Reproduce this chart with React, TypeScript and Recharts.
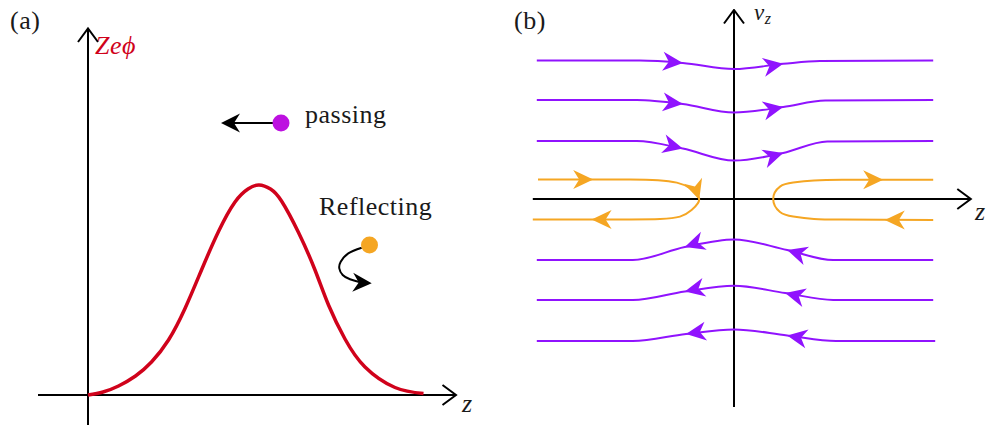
import React from "react";
import { ComposedChart, Line, Scatter, XAxis, YAxis, ReferenceDot } from "recharts";

const W = 987;
const H = 427;

const RED = "#d0021b";
const MAGENTA = "#bd10e0";
const ORANGE = "#f5a623";
const PURPLE = "#9013fe";
const SERIF = '"Liberation Serif", "DejaVu Serif", serif';

// (a) potential hump Ze*phi(z)
const potZ = [0, 0.3, 0.61, 0.95, 1.27, 1.61, 1.94, 2.27, 2.61, 2.94, 3.2, 3.42, 3.65, 3.87, 4.21, 4.54, 4.81, 5.14, 5.54, 6.14, 6.71];
const potPhi = [0, 0.06, 0.18, 0.38, 0.66, 1.1, 1.73, 2.5, 3.27, 3.86, 4.12, 4.2, 4.12, 3.88, 3.25, 2.5, 1.8, 1.12, 0.56, 0.15, 0.03];

// (a) passing particle and its arrow
const passDot = [3.86, 5.44];
const passShaftZ = [3.86, 2.78];
const passTip = [2.66, 5.44, 180];

// (a) reflecting particle and its curled arrow
const reflDot = [5.63, 3.0];
const reflPathZ = [5.474, 5.206, 5.054, 5.026, 5.094, 5.24, 5.406, 5.56];
const reflPathPhi = [2.946, 2.834, 2.666, 2.534, 2.4, 2.314, 2.266, 2.24];
const reflTip = [5.674, 2.234, 3];

// (a) axes: [z0, phi0, z1, phi1]
const axisAz = [-1, 0, 7.36, 0];
const axisAphi = [0, -0.6, 0, 7.33];

// (b) passing orbits in (z, v_z)
const passingRowsZ = [
  [-4.93, -2.35, -1.28, 0, 1.23, 2.15, 4.98],
  [-4.93, -2.43, -1.28, 0, 1.23, 2.28, 4.98],
  [-4.93, -2.43, -1.28, 0, 1.23, 2.33, 4.98],
  [-4.93, -2.53, -1.23, 0, 1.33, 2.48, 4.98],
  [-4.93, -2.53, -1.23, 0, 1.28, 2.48, 4.98],
  [-4.93, -2.53, -1.2, 0, 1.33, 2.55, 5.03],
];
const passingRowsV = [
  [3.46, 3.46, 3.4, 3.25, 3.38, 3.45, 3.46],
  [2.475, 2.475, 2.375, 2.16, 2.3, 2.46, 2.475],
  [1.45, 1.45, 1.26, 0.96, 1.15, 1.44, 1.45],
  [-1.525, -1.525, -1.2, -1.01, -1.275, -1.525, -1.525],
  [-2.525, -2.525, -2.31, -2.17, -2.35, -2.525, -2.525],
  [-3.55, -3.55, -3.375, -3.26, -3.41, -3.55, -3.55],
];

// (b) reflected orbits
const reflLeftZ = [-4.9, -3.7, -2.6, -1.9, -1.43, -1.1, -0.87, -1.06, -1.35, -1.85, -2.6, -3.8, -5.03];
const reflLeftV = [0.49, 0.49, 0.49, 0.47, 0.41, 0.27, 0, -0.275, -0.44, -0.5, -0.51, -0.51, -0.51];
const reflRightZ = [4.98, 3.8, 2.7, 2.0, 1.48, 1.15, 0.98, 1.15, 1.48, 2.0, 2.7, 3.8, 4.98];
const reflRightV = [0.48, 0.48, 0.48, 0.46, 0.41, 0.31, 0, -0.325, -0.44, -0.5, -0.515, -0.52, -0.525];

// (b) arrow heads: position and heading (deg, screen)
const purpleTipZ = [-1.28, 1.23, -1.28, 1.23, -1.28, 1.23, -1.23, 1.33, -1.23, 1.28, -1.2, 1.33];
const purpleTipV = [3.4, 3.38, 2.375, 2.3, 1.26, 1.15, -1.2, -1.275, -2.31, -2.35, -3.375, -3.41];
const purpleTipAngle = [5, -10, 6, -11, 14, -17, 162, 197, 168, 194, 172, 190];
const orangeTipZ = [-3.52, -0.87, -3.56, 3.77, 3.73];
const orangeTipV = [0.49, -0.02, -0.51, -0.523, 0.48];
const orangeTipAngle = [0, 72, 180, 180, 0];

// (b) axes
const axisBz = [-5.03, 0, 5.92, 0];
const axisBv = [0, -5.2, 0, 4.725];

const pts = (zs: number[], vs: number[]) => zs.map((z, i) => ({ x: z, y: vs[i] }));
const tips = (zs: number[], vs: number[], as: number[]) =>
  zs.map((z, i) => ({ x: z, y: vs[i], angle: as[i] }));
const seg = (a: number[]) => [
  { x: a[0], y: a[1] },
  { x: a[2], y: a[3] },
];

const stealth = (color: string, len = 20, half = 9.5, notch = 6) => (p: any) => {
  const { cx, cy, payload } = p;
  if (cx == null || cy == null) return <g />;
  return (
    <path
      d={`M0 0L${-len} ${-half}L${-len + notch} 0L${-len} ${half}Z`}
      fill={color}
      transform={`translate(${cx} ${cy}) rotate(${payload.angle})`}
    />
  );
};

const chevron = (p: any) => {
  const { cx, cy, payload } = p;
  if (cx == null || cy == null) return <g />;
  return (
    <path
      d="M-13.5 -10L0 0L-13.5 10"
      fill="none"
      stroke="#000"
      strokeWidth={2}
      transform={`translate(${cx} ${cy}) rotate(${payload.angle})`}
    />
  );
};

const lineProps = { dot: false, activeDot: false, isAnimationActive: false, dataKey: "y" } as const;

function PanelA() {
  return (
    <ComposedChart width={W} height={H} margin={{ top: 20, right: 499, bottom: 2, left: 38 }}>
      <XAxis type="number" dataKey="x" domain={[-1, 8]} allowDataOverflow hide />
      <YAxis type="number" dataKey="y" domain={[-0.6, 7.5]} allowDataOverflow hide />
      <Line {...lineProps} data={seg(axisAz)} type="linear" stroke="#000" strokeWidth={2} />
      <Line {...lineProps} data={seg(axisAphi)} type="linear" stroke="#000" strokeWidth={2} />
      <Scatter
        data={[
          { x: axisAz[2], y: axisAz[3], angle: 0 },
          { x: axisAphi[2], y: axisAphi[3], angle: -90 },
        ]}
        shape={chevron}
        isAnimationActive={false}
      />
      <Line {...lineProps} data={pts(potZ, potPhi)} type="natural" stroke={RED} strokeWidth={3.5} />
      <Line
        {...lineProps}
        data={pts(passShaftZ, [passDot[1], passDot[1]])}
        type="linear"
        stroke="#000"
        strokeWidth={2}
      />
      <Line {...lineProps} data={pts(reflPathZ, reflPathPhi)} type="natural" stroke="#000" strokeWidth={2} />
      <Scatter
        data={[
          { x: passTip[0], y: passTip[1], angle: passTip[2] },
          { x: reflTip[0], y: reflTip[1], angle: reflTip[2] },
        ]}
        shape={stealth("#000", 19, 9.5, 6)}
        isAnimationActive={false}
      />
      <ReferenceDot x={passDot[0]} y={passDot[1]} r={8.5} fill={MAGENTA} stroke="none" />
      <ReferenceDot x={reflDot[0]} y={reflDot[1]} r={8.5} fill={ORANGE} stroke="none" />
    </ComposedChart>
  );
}

function PanelB() {
  return (
    <ComposedChart width={W} height={H} margin={{ top: 9, right: 3, bottom: 8, left: 504 }}>
      <XAxis type="number" dataKey="x" domain={[-5.75, 6.25]} allowDataOverflow hide />
      <YAxis type="number" dataKey="y" domain={[-5.5, 4.75]} allowDataOverflow hide />
      <Line {...lineProps} data={seg(axisBz)} type="linear" stroke="#000" strokeWidth={2} />
      <Line {...lineProps} data={seg(axisBv)} type="linear" stroke="#000" strokeWidth={2} />
      <Scatter
        data={[
          { x: axisBz[2], y: axisBz[3], angle: 0 },
          { x: axisBv[2], y: axisBv[3], angle: -90 },
        ]}
        shape={chevron}
        isAnimationActive={false}
      />
      {passingRowsZ.map((zs, i) => (
        <Line
          key={`row${i}`}
          {...lineProps}
          data={pts(zs, passingRowsV[i])}
          type="monotone"
          stroke={PURPLE}
          strokeWidth={2}
        />
      ))}
      <Line {...lineProps} data={pts(reflLeftZ, reflLeftV)} type="natural" stroke={ORANGE} strokeWidth={2} />
      <Line {...lineProps} data={pts(reflRightZ, reflRightV)} type="natural" stroke={ORANGE} strokeWidth={2} />
      <Scatter
        data={tips(purpleTipZ, purpleTipV, purpleTipAngle)}
        shape={stealth(PURPLE)}
        isAnimationActive={false}
      />
      <Scatter
        data={tips(orangeTipZ, orangeTipV, orangeTipAngle)}
        shape={stealth(ORANGE)}
        isAnimationActive={false}
      />
    </ComposedChart>
  );
}

function Labels() {
  const t = { fontFamily: SERIF, fontSize: 26, fill: "#1a1a1a", letterSpacing: 0.5 };
  const it = { ...t, fontStyle: "italic" as const };
  return (
    <svg width={W} height={H} style={{ position: "absolute", left: 0, top: 0 }}>
      <text x={10} y={29} style={t}>(a)</text>
      <text x={95} y={54} style={{ ...it, fill: RED }}>Zeϕ</text>
      <text x={305} y={123} style={t}>passing</text>
      <text x={319} y={215} style={t}>Reflecting</text>
      <text x={462} y={412} style={it}>z</text>
      <text x={514} y={29} style={t}>(b)</text>
      <text x={754} y={20} style={{ ...it, fontSize: 23 }}>
        v<tspan style={{ fontSize: 16 }} dy={4}>z</tspan>
      </text>
      <text x={975} y={220} style={it}>z</text>
    </svg>
  );
}

export default function App() {
  return (
    <div
      style={{
        position: "absolute",
        left: 0,
        top: 0,
        width: W,
        height: H,
        overflow: "hidden",
        background: "#fff",
      }}
    >
      <div style={{ position: "absolute", left: 0, top: 0 }}>
        <PanelA />
      </div>
      <div style={{ position: "absolute", left: 0, top: 0 }}>
        <PanelB />
      </div>
      <Labels />
    </div>
  );
}
